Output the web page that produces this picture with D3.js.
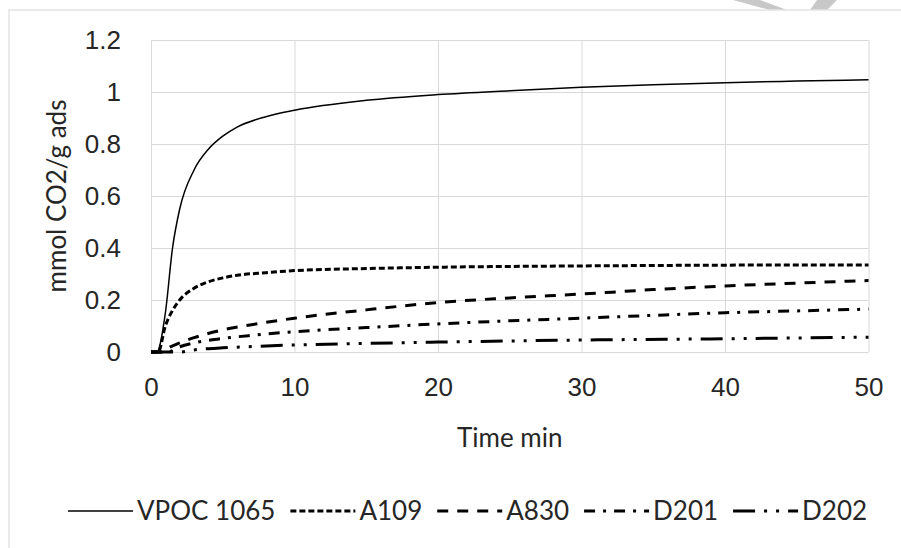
<!DOCTYPE html>
<html>
<head>
<meta charset="utf-8">
<style>
    body { margin: 0; background: #fff; }
    svg { display: block; font-family: Lato, 'Open Sans', sans-serif; }
    .grid .domain { display: none; }
    .grid .tick line { stroke: #d9d9d9; stroke-width: 1px; }
    .grid .tick text { fill: #262626; font-size: 26px; }
    .series { fill: none; stroke: #000; }
</style>
</head>
<body>
<svg width="901" height="548"></svg>
<script src="https://cdn.jsdelivr.net/npm/d3@7"></script>
<script>
// values (time in min, uptake in mmol CO2/g ads)
let vpoc = [[0,0],[0.4,0],[1,0.15],[1.5,0.4],[2,0.55],[3,0.7],[4,0.78],[5,0.83],[6,0.865],[8,0.905],[10,0.93],[15,0.968],[20,0.99],[25,1.005],[30,1.018],[35,1.028],[40,1.036],[45,1.042],[50,1.047]]
let a109 = [[0,0],[0.5,0],[1,0.1],[1.5,0.16],[2,0.2],[3,0.245],[4,0.27],[5,0.285],[6,0.295],[8,0.305],[10,0.313],[15,0.321],[20,0.326],[30,0.331],[40,0.334],[50,0.335]]
let a830 = [[0,0],[0.7,0],[1,0.01],[2,0.035],[3,0.055],[5,0.085],[7,0.105],[10,0.13],[15,0.162],[20,0.19],[25,0.208],[30,0.223],[35,0.24],[40,0.254],[45,0.265],[50,0.275]]
let d201 = [[0,0],[1.2,0],[2,0.02],[3,0.035],[5,0.052],[7,0.064],[10,0.078],[15,0.094],[20,0.108],[25,0.12],[30,0.13],[35,0.141],[40,0.151],[45,0.158],[50,0.165]]
let d202 = [[0,0],[2,0],[3,0.008],[5,0.016],[7,0.021],[10,0.027],[15,0.033],[20,0.038],[30,0.046],[40,0.051],[50,0.057]]

let seriesNames = ["VPOC 1065", "A109", "A830", "D201", "D202"]
let seriesData = [vpoc, a109, a830, d201, d202]
let xTicks = [0, 10, 20, 30, 40, 50]
let yTicks = [0, 0.2, 0.4, 0.6, 0.8, 1, 1.2]

// line styles (width, dash pattern)
let styles = [
    { w: 1.5, dash: null },
    { w: 3, dash: "6,3" },
    { w: 3, dash: "11,9" },
    { w: 3, dash: "11,8,3,8" },
    { w: 3, dash: "22,9,3,9,3,9" }
]

let svg = d3.select("svg")
let margin = { top: 40, right: 32, bottom: 196, left: 151 }
let width = 901
let height = 548

// watermark bits at the top right and the outer chart frame
svg.append("path")
    .attr("d", "M733,0 L760,0 L787,10 L770,10 Z M817,0 L837,0 L827,10 L810,10 Z")
    .style("fill", "#c8c8c8")
svg.append("rect")
    .attr("x", 9).attr("y", 10)
    .attr("width", 960).attr("height", 600)
    .style("fill", "#fff")
    .style("stroke", "#e3e3e3")
    .style("stroke-width", 1.5)

let x = d3.scaleLinear()
    .domain([0, 50])
    .range([margin.left, width - margin.right - 0.5])

let y = d3.scaleLinear()
    .domain([0, 1.2])
    .range([height - margin.bottom, margin.top])

let plotH = y(0) - y(1.2)
let plotW = x(50) - x(0)

svg.append("g")
    .attr("class", "grid")
    .attr("transform", `translate(0,${y(0)})`)
    .call(d3.axisBottom(x).tickValues(xTicks).tickSize(-plotH).tickPadding(26).tickFormat(d3.format("d")))

svg.append("g")
    .attr("class", "grid")
    .attr("transform", `translate(${margin.left},0)`)
    .call(d3.axisLeft(y).tickValues(yTicks).tickSize(-plotW).tickPadding(30).tickFormat(d => d3.format("")(+d.toFixed(1))))

let line = d3.line()
    .x(d => x(d[0]))
    .y(d => y(d[1]))
    .curve(d3.curveMonotoneX)

seriesData.forEach(function (data, i) {
    svg.append("path")
        .attr("class", "series")
        .attr("d", line(data))
        .style("stroke-width", styles[i].w)
        .style("stroke-dasharray", styles[i].dash)
})

// axis titles
svg.append("text")
    .attr("x", (x(0) + x(50)) / 2)
    .attr("y", 447)
    .attr("text-anchor", "middle")
    .style("font-size", "26px")
    .style("fill", "#262626")
    .text("Time min")

svg.append("text")
    .attr("transform", `translate(66,${(y(0) + y(1.2)) / 2}) rotate(-90)`)
    .attr("text-anchor", "middle")
    .style("font-size", "26px")
    .style("fill", "#262626")
    .text("mmol CO2/g ads")

// legend, laid out left to right
let lx = 68
let ly = 511
seriesNames.forEach(function (name, i) {
    svg.append("line")
        .attr("x1", lx).attr("x2", lx + 65)
        .attr("y1", ly).attr("y2", ly)
        .style("stroke", "#000")
        .style("stroke-width", styles[i].w)
        .style("stroke-dasharray", styles[i].dash)
    let t = svg.append("text")
        .attr("x", lx + 69)
        .attr("y", ly + 9)
        .style("font-size", "26px")
        .style("fill", "#262626")
        .text(name)
    lx = lx + 69 + t.node().getComputedTextLength() + 15
})
</script>
</body>
</html>
